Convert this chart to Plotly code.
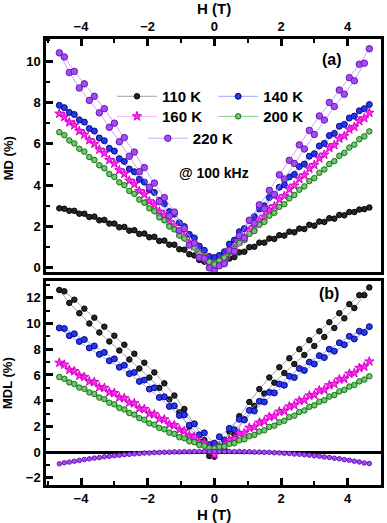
import plotly.graph_objects as go
from plotly.subplots import make_subplots

# Field sweep grids (T): down sweep then up sweep
H_DOWN = [4.65, 4.35, 4.05, 3.75, 3.45, 3.15, 2.85, 2.55, 2.25, 1.95, 1.65, 1.35, 1.05, 0.75, 0.45, 0.15,
          -0.15, -0.45, -0.75, -1.05, -1.35, -1.65, -1.95, -2.25, -2.55, -2.85, -3.15, -3.45, -3.75, -4.05, -4.35, -4.65]
H_UP = [-4.5, -4.2, -3.9, -3.6, -3.3, -3.0, -2.7, -2.4, -2.1, -1.8, -1.5, -1.2, -0.9, -0.6, -0.3, 0.0,
        0.3, 0.6, 0.9, 1.2, 1.5, 1.8, 2.1, 2.4, 2.7, 3.0, 3.3, 3.6, 3.9, 4.2, 4.5]

TEMPS = ["110 K", "140 K", "160 K", "200 K", "220 K"]

# (a) MD (%)
MD_110_DOWN = [2.92, 2.82, 2.70, 2.56, 2.40, 2.24, 2.08, 1.90, 1.75, 1.58, 1.42, 1.22, 1.00, 0.75, 0.45, 0.15,
               0.10, 0.38, 0.66, 0.90, 1.12, 1.30, 1.48, 1.64, 1.80, 1.96, 2.14, 2.30, 2.46, 2.62, 2.76, 2.88]
MD_110_UP = [2.86, 2.76, 2.62, 2.48, 2.32, 2.14, 1.98, 1.82, 1.66, 1.50, 1.32, 1.12, 0.88, 0.60, 0.30, 0.02,
             0.24, 0.52, 0.78, 1.02, 1.22, 1.40, 1.56, 1.72, 1.88, 2.04, 2.22, 2.38, 2.54, 2.70, 2.84]
MD_140_DOWN = [7.90, 7.60, 7.25, 6.85, 6.40, 5.90, 5.40, 4.90, 4.40, 3.90, 3.40, 2.85, 2.30, 1.75, 1.15, 0.60,
               0.55, 1.05, 1.62, 2.18, 2.72, 3.26, 3.78, 4.28, 4.78, 5.28, 5.78, 6.28, 6.74, 7.16, 7.52, 7.86]
MD_140_UP = [7.75, 7.42, 7.05, 6.62, 6.15, 5.65, 5.15, 4.65, 4.15, 3.65, 3.10, 2.60, 2.00, 1.45, 0.85, 0.50,
             0.78, 1.34, 1.90, 2.48, 3.00, 3.52, 4.02, 4.52, 5.02, 5.52, 6.02, 6.50, 6.94, 7.34, 7.70]
MD_160_DOWN = [7.50, 7.10, 6.70, 6.25, 5.80, 5.30, 4.80, 4.30, 3.80, 3.30, 2.80, 2.30, 1.80, 1.30, 0.80, 0.30,
               0.25, 0.72, 1.22, 1.72, 2.22, 2.72, 3.22, 3.72, 4.22, 4.72, 5.22, 5.72, 6.18, 6.62, 7.04, 7.46]
MD_160_UP = [7.30, 6.90, 6.45, 6.00, 5.55, 5.05, 4.55, 4.05, 3.55, 3.05, 2.55, 2.05, 1.55, 1.05, 0.55, 0.15,
             0.50, 0.98, 1.48, 1.98, 2.48, 2.98, 3.48, 3.98, 4.48, 4.98, 5.48, 5.94, 6.38, 6.82, 7.24]
MD_200_DOWN = [6.60, 6.22, 5.82, 5.42, 5.02, 4.60, 4.20, 3.78, 3.36, 2.95, 2.52, 2.08, 1.64, 1.20, 0.76, 0.35,
               0.30, 0.70, 1.12, 1.56, 2.00, 2.44, 2.88, 3.30, 3.72, 4.14, 4.54, 4.96, 5.36, 5.76, 6.16, 6.56]
MD_200_UP = [6.42, 6.02, 5.62, 5.22, 4.82, 4.40, 4.00, 3.58, 3.15, 2.74, 2.30, 1.86, 1.42, 0.98, 0.55, 0.18,
             0.50, 0.92, 1.34, 1.78, 2.22, 2.66, 3.08, 3.52, 3.94, 4.34, 4.76, 5.16, 5.56, 5.96, 6.36]
MD_220_DOWN = [10.60, 9.85, 9.20, 8.60, 8.00, 7.35, 6.65, 5.95, 5.20, 4.50, 3.75, 3.05, 2.30, 1.55, 0.85, 0.10,
               0.00, 0.50, 1.10, 1.80, 2.50, 3.20, 3.90, 4.65, 5.40, 6.10, 6.80, 7.50, 8.10, 8.70, 9.45, 10.40]
MD_220_UP = [10.20, 9.50, 8.90, 8.30, 7.70, 7.00, 6.30, 5.60, 4.85, 4.10, 3.40, 2.70, 1.90, 1.20, 0.45, -0.15,
             0.20, 0.80, 1.45, 2.15, 2.85, 3.55, 4.30, 5.05, 5.75, 6.45, 7.15, 7.80, 8.40, 9.05, 9.90]

# (b) MDL (%)
MDL_110_DOWN = [12.8, 12.2, 11.5, 10.8, 10.1, 9.4, 8.7, 8.0, 7.3, 6.6, 5.8, 4.9, 3.9, 2.8, 1.6, 0.3,
                -0.3, 0.8, 2.0, 3.1, 4.1, 5.0, 5.8, 6.5, 7.2, 7.9, 8.6, 9.3, 10.0, 10.8, 11.6, 12.6]
MDL_110_UP = [12.5, 11.85, 11.15, 10.45, 9.75, 9.05, 8.35, 7.65, 6.95, 6.2, 5.35, 4.4, 3.35, 2.2, 0.95, -0.35,
              0.2, 1.4, 2.55, 3.6, 4.55, 5.4, 6.15, 6.85, 7.55, 8.25, 8.95, 9.65, 10.4, 11.2, 12.2]
MDL_140_DOWN = [9.75, 9.4, 9.0, 8.5, 8.0, 7.5, 7.0, 6.5, 5.9, 5.3, 4.65, 3.95, 3.25, 2.55, 1.85, 1.2,
                0.6, 1.35, 2.1, 2.85, 3.55, 4.25, 4.9, 5.5, 6.1, 6.6, 7.1, 7.6, 8.1, 8.6, 9.05, 9.65]
MDL_140_UP = [9.6, 9.2, 8.75, 8.25, 7.75, 7.25, 6.75, 6.2, 5.6, 5.0, 4.3, 3.6, 2.9, 2.2, 1.5, 0.7,
              0.95, 1.75, 2.5, 3.2, 3.9, 4.6, 5.2, 5.8, 6.35, 6.85, 7.35, 7.85, 8.35, 8.8, 9.3]
MDL_160_DOWN = [7.05, 6.55, 6.1, 5.65, 5.2, 4.8, 4.4, 4.0, 3.55, 3.15, 2.75, 2.3, 1.9, 1.45, 0.95, 0.45,
                0.3, 0.8, 1.3, 1.75, 2.15, 2.6, 3.0, 3.4, 3.85, 4.25, 4.65, 5.05, 5.5, 5.95, 6.4, 6.95]
MDL_160_UP = [6.8, 6.3, 5.85, 5.45, 5.0, 4.6, 4.2, 3.8, 3.35, 2.95, 2.55, 2.1, 1.65, 1.2, 0.7, -0.2,
              0.55, 1.05, 1.5, 1.95, 2.4, 2.8, 3.2, 3.65, 4.05, 4.45, 4.85, 5.3, 5.7, 6.15, 6.65]
MDL_200_DOWN = [5.9, 5.5, 5.1, 4.72, 4.32, 3.92, 3.52, 3.12, 2.72, 2.32, 1.96, 1.6, 1.24, 0.92, 0.64, 0.4,
                0.32, 0.56, 0.84, 1.16, 1.52, 1.88, 2.24, 2.64, 3.04, 3.44, 3.84, 4.24, 4.64, 5.02, 5.42, 5.84]
MDL_200_UP = [5.7, 5.3, 4.92, 4.52, 4.12, 3.72, 3.32, 2.92, 2.52, 2.14, 1.78, 1.42, 1.08, 0.78, 0.5, 0.3,
              0.44, 0.7, 1.0, 1.34, 1.7, 2.06, 2.44, 2.84, 3.24, 3.64, 4.04, 4.44, 4.84, 5.22, 5.64]
MDL_220_DOWN = [-0.88, -0.76, -0.63, -0.51, -0.41, -0.31, -0.23, -0.16, -0.10, -0.05, -0.01, 0.01, 0.03, 0.05, 0.06, 0.06,
                0.05, 0.05, 0.04, 0.02, 0.0, -0.02, -0.06, -0.11, -0.17, -0.24, -0.32, -0.42, -0.52, -0.64, -0.77, -0.9]
MDL_220_UP = [-0.82, -0.7, -0.57, -0.46, -0.36, -0.27, -0.19, -0.13, -0.07, -0.03, 0.0, 0.02, 0.04, 0.05, 0.06, 0.06,
              0.05, 0.04, 0.03, 0.01, -0.01, -0.04, -0.08, -0.14, -0.2, -0.28, -0.37, -0.47, -0.58, -0.7, -0.84]

X_TICKS = [-4, -2, 0, 2, 4]
MD_TICKS = [0, 2, 4, 6, 8, 10]
MDL_TICKS = [-2, 0, 2, 4, 6, 8, 10, 12]

H_ALL = H_DOWN + H_UP
MD = [MD_110_DOWN + MD_110_UP, MD_140_DOWN + MD_140_UP, MD_160_DOWN + MD_160_UP,
      MD_200_DOWN + MD_200_UP, MD_220_DOWN + MD_220_UP]
MDL = [MDL_110_DOWN + MDL_110_UP, MDL_140_DOWN + MDL_140_UP, MDL_160_DOWN + MDL_160_UP,
       MDL_200_DOWN + MDL_200_UP, MDL_220_DOWN + MDL_220_UP]

STYLES = [
    dict(fill="#262626", edge="#000000", line="#8c8c8c", symbol="circle", size=5.5),
    dict(fill="#2438f0", edge="#06067a", line="#8c8cff", symbol="circle", size=6),
    dict(fill="#ff2cf0", edge="#d400c8", line="#ff99f5", symbol="star", size=7),
    dict(fill="#74c474", edge="#0a760a", line="#6fbf6f", symbol="circle", size=5.5),
    dict(fill="#a24cf2", edge="#6a14b8", line="#c28cf5", symbol="circle", size=6.5),
]
LEGEND_IDS = ["legend", "legend2", "legend3", "legend4", "legend5"]

fig = make_subplots(rows=2, cols=1, shared_xaxes=False, vertical_spacing=0.02)

for i, name in enumerate(TEMPS):
    st = STYLES[i]
    fig.add_trace(go.Scatter(
        x=H_ALL, y=MD[i], mode="lines+markers", name=name, legend=LEGEND_IDS[i],
        line=dict(color=st["line"], width=0.8),
        marker=dict(symbol=st["symbol"], size=st["size"], color=st["fill"],
                    line=dict(color=st["edge"], width=1)),
    ), row=1, col=1)

for i, name in enumerate(TEMPS):
    st = STYLES[i]
    sz = 4.5 if i == 4 else st["size"]
    fig.add_trace(go.Scatter(
        x=H_ALL, y=MDL[i], mode="lines+markers", name=name, showlegend=False,
        line=dict(color=st["line"], width=0.8),
        marker=dict(symbol=st["symbol"], size=sz, color=st["fill"],
                    line=dict(color=st["edge"], width=1)),
    ), row=2, col=1)

FONT = "Liberation Sans, Arial, sans-serif"
bold = dict(family=FONT, size=13, color="black", weight="bold")
common_x = dict(range=[-5.05, 5.0], tickvals=X_TICKS, ticks="inside", ticklen=7, tickwidth=2.5,
                tickcolor="black", showline=True, linewidth=2.5, linecolor="black", mirror=True,
                showgrid=False, zeroline=False, tickfont=bold, automargin=False,
                minor=dict(ticks="inside", dtick=1, tick0=0, ticklen=4, tickwidth=2, tickcolor="black"))
common_y = dict(ticks="inside", ticklen=7, tickwidth=2.5, tickcolor="black", showline=True,
                linewidth=2.5, linecolor="black", mirror=True, showgrid=False, tickfont=bold,
                automargin=False,
                minor=dict(ticks="inside", dtick=1, tick0=0, ticklen=4, tickwidth=2, tickcolor="black"))

fig.update_xaxes(**common_x, side="top", row=1, col=1)
fig.update_xaxes(**common_x, side="bottom", row=2, col=1)
fig.update_yaxes(**common_y, range=[-0.2, 11.07], tickvals=MD_TICKS, zeroline=False, row=1, col=1)
fig.update_yaxes(**common_y, range=[-2.55, 13.3], tickvals=MDL_TICKS,
                 zeroline=True, zerolinecolor="black", zerolinewidth=2.5, row=2, col=1)

legfont = dict(family=FONT, size=15, color="black", weight="bold")
LEG_POS = [(0.197, 0.908), (0.499, 0.908), (0.197, 0.863), (0.499, 0.863), (0.289, 0.814)]
leg_layout = {}
for lid, (lx, ly) in zip(LEGEND_IDS, LEG_POS):
    leg_layout[lid] = dict(orientation="v", x=lx, y=ly, xanchor="left", yanchor="top",
                           bgcolor="rgba(0,0,0,0)", font=legfont, itemwidth=40, borderwidth=0)

fig.update_layout(
    width=387, height=523,
    margin=dict(l=46, r=6, t=39, b=38),
    paper_bgcolor="white", plot_bgcolor="white",
    xaxis=dict(domain=[0, 1]), yaxis=dict(domain=[0.4776, 1.0]),
    xaxis2=dict(domain=[0, 1]), yaxis2=dict(domain=[0.0, 0.4574]),
    annotations=[
        dict(text="H (T)", xref="paper", yref="paper", x=0.5, y=1.0695,
             xanchor="center", yanchor="middle", showarrow=False, font=dict(bold, size=15)),
        dict(text="H (T)", xref="paper", yref="paper", x=0.5, y=-0.067,
             xanchor="center", yanchor="middle", showarrow=False, font=dict(bold, size=15)),
        dict(text="MD (%)", xref="paper", yref="paper", x=-0.113, y=0.733, textangle=-90,
             xanchor="center", yanchor="middle", showarrow=False, font=dict(bold, size=13)),
        dict(text="MDL (%)", xref="paper", yref="paper", x=-0.113, y=0.229, textangle=-90,
             xanchor="center", yanchor="middle", showarrow=False, font=dict(bold, size=13)),
        dict(text="(a)", xref="x domain", yref="y domain", x=0.854, y=0.91,
             xanchor="center", yanchor="middle", showarrow=False, font=dict(bold, size=16)),
        dict(text="(b)", xref="x2 domain", yref="y2 domain", x=0.845, y=0.941,
             xanchor="center", yanchor="middle", showarrow=False, font=dict(bold, size=16)),
        dict(text="@ 100 kHz", xref="x domain", yref="y domain", x=0.5, y=0.425,
             xanchor="center", yanchor="middle", showarrow=False, font=dict(bold, size=14)),
    ],
    **leg_layout,
)

fig.write_html("out.html", config={"displayModeBar": False},
               post_script="document.body.style.margin='0px';document.body.style.overflow='hidden';")
